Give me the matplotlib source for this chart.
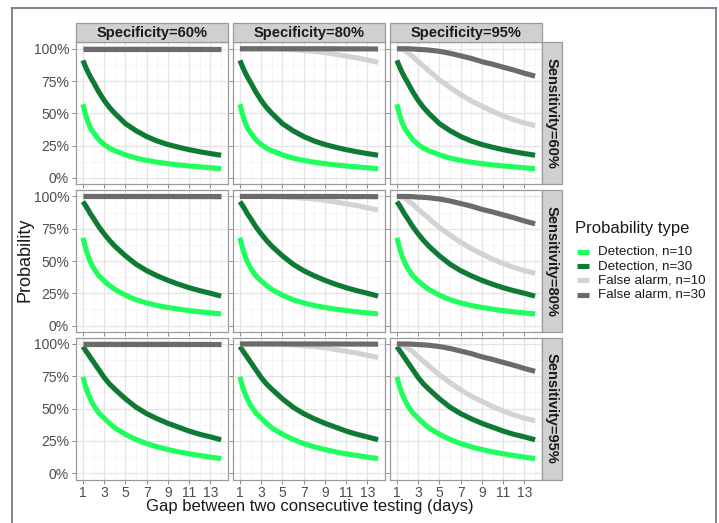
import numpy as np
import matplotlib
matplotlib.use('Agg')
import matplotlib.pyplot as plt
from matplotlib.lines import Line2D
from matplotlib.patches import Rectangle

plt.rcParams['font.family'] = ['Liberation Sans', 'DejaVu Sans']

# Data (gap in days)
gap = [1, 1.25, 1.5, 1.75, 2, 2.5, 3, 3.5, 4, 5, 6, 7, 8, 9, 10, 11, 12, 13, 14]

specificity_labels = ['Specificity=60%', 'Specificity=80%', 'Specificity=95%']
sensitivity_labels = ['Sensitivity=60%', 'Sensitivity=80%', 'Sensitivity=95%']
x_ticks = [1, 3, 5, 7, 9, 11, 13]
y_ticks = [0, 0.25, 0.5, 0.75, 1.0]
y_ticklabels = ['0%', '25%', '50%', '75%', '100%']

# detection probabilities depend on sensitivity (rows)
det_n10 = [
    [0.57, 0.49, 0.425, 0.38, 0.35, 0.295, 0.258, 0.23, 0.21, 0.178, 0.153, 0.135,
     0.121, 0.11, 0.10, 0.092, 0.085, 0.078, 0.071],
    [0.68, 0.60, 0.535, 0.485, 0.445, 0.385, 0.345, 0.31, 0.28, 0.235, 0.20, 0.175,
     0.155, 0.14, 0.127, 0.116, 0.106, 0.098, 0.09],
    [0.745, 0.67, 0.61, 0.565, 0.525, 0.465, 0.425, 0.385, 0.35, 0.30, 0.26, 0.228,
     0.203, 0.182, 0.164, 0.149, 0.136, 0.123, 0.112],
]
det_n30 = [
    [0.91, 0.86, 0.815, 0.775, 0.74, 0.665, 0.60, 0.545, 0.50, 0.42, 0.365, 0.32,
     0.285, 0.258, 0.237, 0.218, 0.202, 0.188, 0.175],
    [0.96, 0.93, 0.895, 0.86, 0.83, 0.765, 0.71, 0.66, 0.615, 0.54, 0.475, 0.425,
     0.385, 0.35, 0.32, 0.293, 0.27, 0.25, 0.228],
    [0.98, 0.95, 0.92, 0.89, 0.86, 0.80, 0.74, 0.69, 0.65, 0.575, 0.51, 0.46,
     0.42, 0.385, 0.355, 0.325, 0.30, 0.28, 0.258],
]
# false alarm probabilities depend on specificity (columns)
fa_n10 = [
    [1.0, 1.0, 1.0, 1.0, 1.0, 1.0, 1.0, 1.0, 1.0, 1.0, 1.0, 1.0,
     1.0, 1.0, 0.999, 0.998, 0.997, 0.996, 0.994],
    [1.0, 1.0, 1.0, 1.0, 1.0, 1.0, 1.0, 1.0, 1.0, 0.997, 0.993, 0.987,
     0.98, 0.97, 0.957, 0.943, 0.93, 0.912, 0.895],
    [1.0, 0.999, 0.995, 0.985, 0.97, 0.94, 0.90, 0.865, 0.83, 0.76, 0.70, 0.645,
     0.595, 0.555, 0.515, 0.48, 0.45, 0.425, 0.405],
]
fa_n30 = [
    [1.0] * 19,
    [1.0, 1.0, 1.0, 1.0, 1.0, 1.0, 1.0, 1.0, 1.0, 1.0, 1.0, 1.0,
     1.0, 1.0, 1.0, 0.999, 0.999, 0.999, 0.998],
    [1.0, 1.0, 1.0, 1.0, 1.0, 0.998, 0.995, 0.993, 0.99, 0.98, 0.965, 0.945,
     0.925, 0.90, 0.88, 0.857, 0.835, 0.81, 0.788],
]

series_names = ['Detection, n=10', 'Detection, n=30', 'False alarm, n=10', 'False alarm, n=30']
colors = ['#1eff5e', '#0e7a34', '#d3d3d3', '#6b6b6b']

W, H = 719, 523


def box(l, t, w, h):
    return [l / W, 1 - (t + h) / H, w / W, h / H]


fig = plt.figure(figsize=(W / 100, H / 100), dpi=100)

# outer frame
frame_col = '#6f7d8a'
fig.add_artist(Line2D([12 / W, 12 / W], [0, 1 - 8 / H], color=frame_col, lw=1.3))
fig.add_artist(Line2D([12 / W, 716 / W], [1 - 8 / H, 1 - 8 / H], color=frame_col, lw=1.3))
fig.add_artist(Line2D([716 / W, 716 / W], [0, 1 - 8 / H], color=frame_col, lw=1.3))

col_left = [76, 233, 390]
col_w = 152
row_top = [42.3, 190, 337.5]
row_h = 142
border = '#9a9a9a'

for r in range(3):
    for c in range(3):
        ax = fig.add_axes(box(col_left[c], row_top[r], col_w, row_h))
        ax.set_xlim(0.35, 14.65)
        ax.set_ylim(-0.05, 1.05)
        ax.set_xticks(x_ticks)
        ax.set_xticks([2, 4, 6, 8, 10, 12, 14], minor=True)
        ax.set_yticks(y_ticks)
        ax.set_yticks([0.125, 0.375, 0.625, 0.875], minor=True)
        ax.grid(True, which='major', color='#e4e4e4', lw=0.9)
        ax.grid(True, which='minor', color='#f2f2f2', lw=0.5)
        ax.set_axisbelow(True)
        for s in ax.spines.values():
            s.set_color(border)
            s.set_linewidth(0.9)
        ax.tick_params(which='major', length=3, color='#8a8a8a', width=0.7,
                       labelsize=10, labelcolor='#4d4d4d', pad=2)
        ax.tick_params(which='minor', length=0)
        if c == 0:
            ax.set_yticklabels(y_ticklabels)
        else:
            ax.set_yticklabels([])
        if r == 2:
            ax.set_xticklabels([str(v) for v in x_ticks])
        else:
            ax.set_xticklabels([])

        data = [det_n10[r], det_n30[r], fa_n10[c], fa_n30[c]]
        for vals, col in zip(data, colors):
            ax.plot(gap, vals, color=col, lw=3.7, solid_capstyle='butt',
                    solid_joinstyle='round')

# top strips
for c in range(3):
    l, t, w, h = col_left[c], 23, col_w, 19.3
    fig.add_artist(Rectangle((l / W, 1 - (t + h) / H), w / W, h / H,
                             facecolor='#d0d0d0', edgecolor=border, lw=0.9,
                             transform=fig.transFigure))
    fig.text((l + w / 2) / W, 1 - (t + h / 2) / H, specificity_labels[c],
             ha='center', va='center', fontsize=10.5, fontweight='bold', color='#1a1a1a')

# right strips
for r in range(3):
    l, t, w, h = 542, row_top[r], 19.5, row_h
    fig.add_artist(Rectangle((l / W, 1 - (t + h) / H), w / W, h / H,
                             facecolor='#d0d0d0', edgecolor=border, lw=0.9,
                             transform=fig.transFigure))
    fig.text((l + w / 2) / W, 1 - (t + h / 2) / H, sensitivity_labels[r],
             ha='center', va='center', rotation=-90, fontsize=10.5,
             fontweight='bold', color='#1a1a1a')

# axis titles
fig.text(25 / W, 1 - 260 / H, 'Probability', rotation=90, ha='center', va='center',
         fontsize=13, color='#1a1a1a')
fig.text(310 / W, 1 - 507 / H, 'Gap between two consecutive testing (days)',
         ha='center', va='center', fontsize=12, color='#1a1a1a')

# legend
fig.text(575 / W, 1 - 229 / H, 'Probability type', ha='left', va='center',
         fontsize=12, color='#1a1a1a')
for i, (name, col) in enumerate(zip(series_names, colors)):
    y = 1 - (252 + 14.2 * i) / H
    fig.add_artist(Line2D([577 / W, 589 / W], [y, y], color=col, lw=3.7,
                          solid_capstyle='butt'))
    fig.text(598 / W, y, name, ha='left', va='center', fontsize=9.6, color='#1a1a1a')

fig.savefig('out.png', dpi=100)
